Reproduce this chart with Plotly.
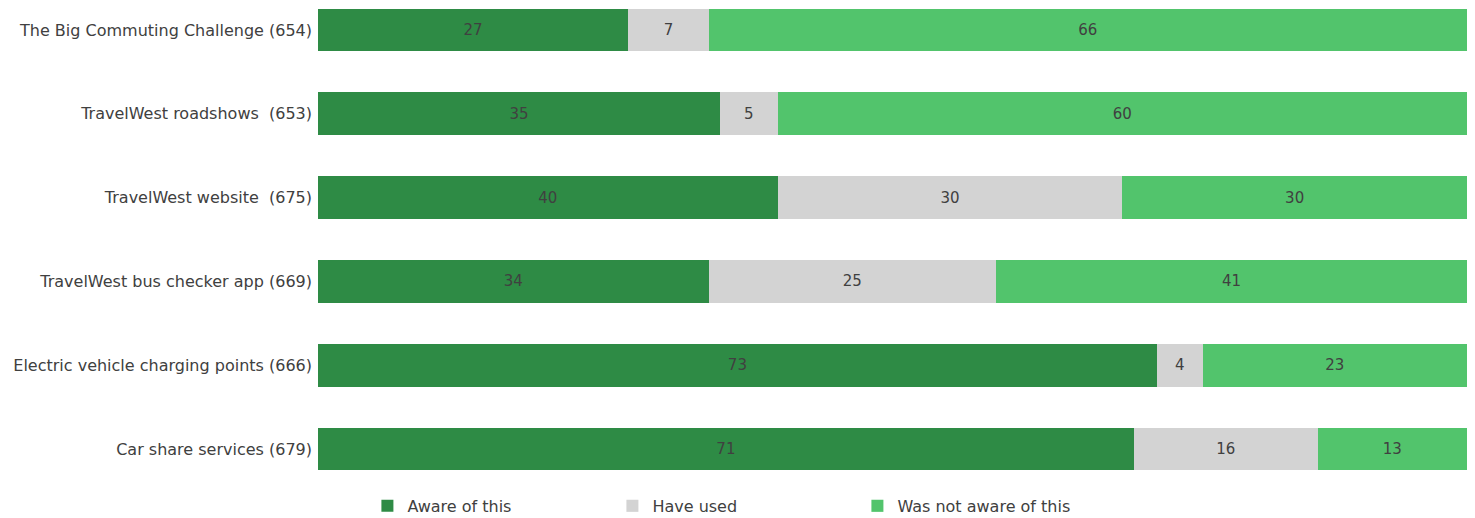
import plotly.graph_objects as go

categories = [
    "The Big Commuting Challenge (654)",
    "TravelWest roadshows  (653)",
    "TravelWest website  (675)",
    "TravelWest bus checker app (669)",
    "Electric vehicle charging points (666)",
    "Car share services (679)",
]
aware = [27, 35, 40, 34, 73, 71]
used = [7, 5, 30, 25, 4, 16]
not_aware = [66, 60, 30, 41, 23, 13]

series = [
    ("Aware of this", aware, "#2E8B45"),
    ("Have used", used, "#D3D3D3"),
    ("Was not aware of this", not_aware, "#52C46C"),
]

FONT = "DejaVu Sans"

fig = go.Figure()
for name, vals, col in series:
    fig.add_trace(go.Bar(
        y=categories, x=vals, name=name, orientation="h",
        marker=dict(color=col, line=dict(width=0)),
        text=vals, textposition="inside", insidetextanchor="middle",
        textfont=dict(color="#404040", size=15, family=FONT),
    ))

fig.update_layout(
    barmode="stack",
    width=1467, height=510,
    margin=dict(l=310, r=8, t=0, b=38, autoexpand=False),
    plot_bgcolor="white", paper_bgcolor="white",
    bargap=0.487,
    font=dict(family=FONT, size=15, color="#404040"),
    xaxis=dict(range=[0, 100], visible=False, fixedrange=True, automargin=False),
    yaxis=dict(categoryorder="array", categoryarray=categories[::-1],
               range=[-0.37, 5.2625], showgrid=False, ticks="", automargin=False,
               ticklabelstandoff=5, tickfont=dict(size=16, color="#404040", family=FONT)),
    legend=dict(orientation="h", x=0.043, xanchor="left",
                y=-0.055, yanchor="middle",
                entrywidth=200, entrywidthmode="pixels",
                font=dict(size=16, color="#404040", family=FONT), traceorder="normal"),
    uniformtext=dict(mode="show", minsize=10),
)

fig.write_html("out.html")
